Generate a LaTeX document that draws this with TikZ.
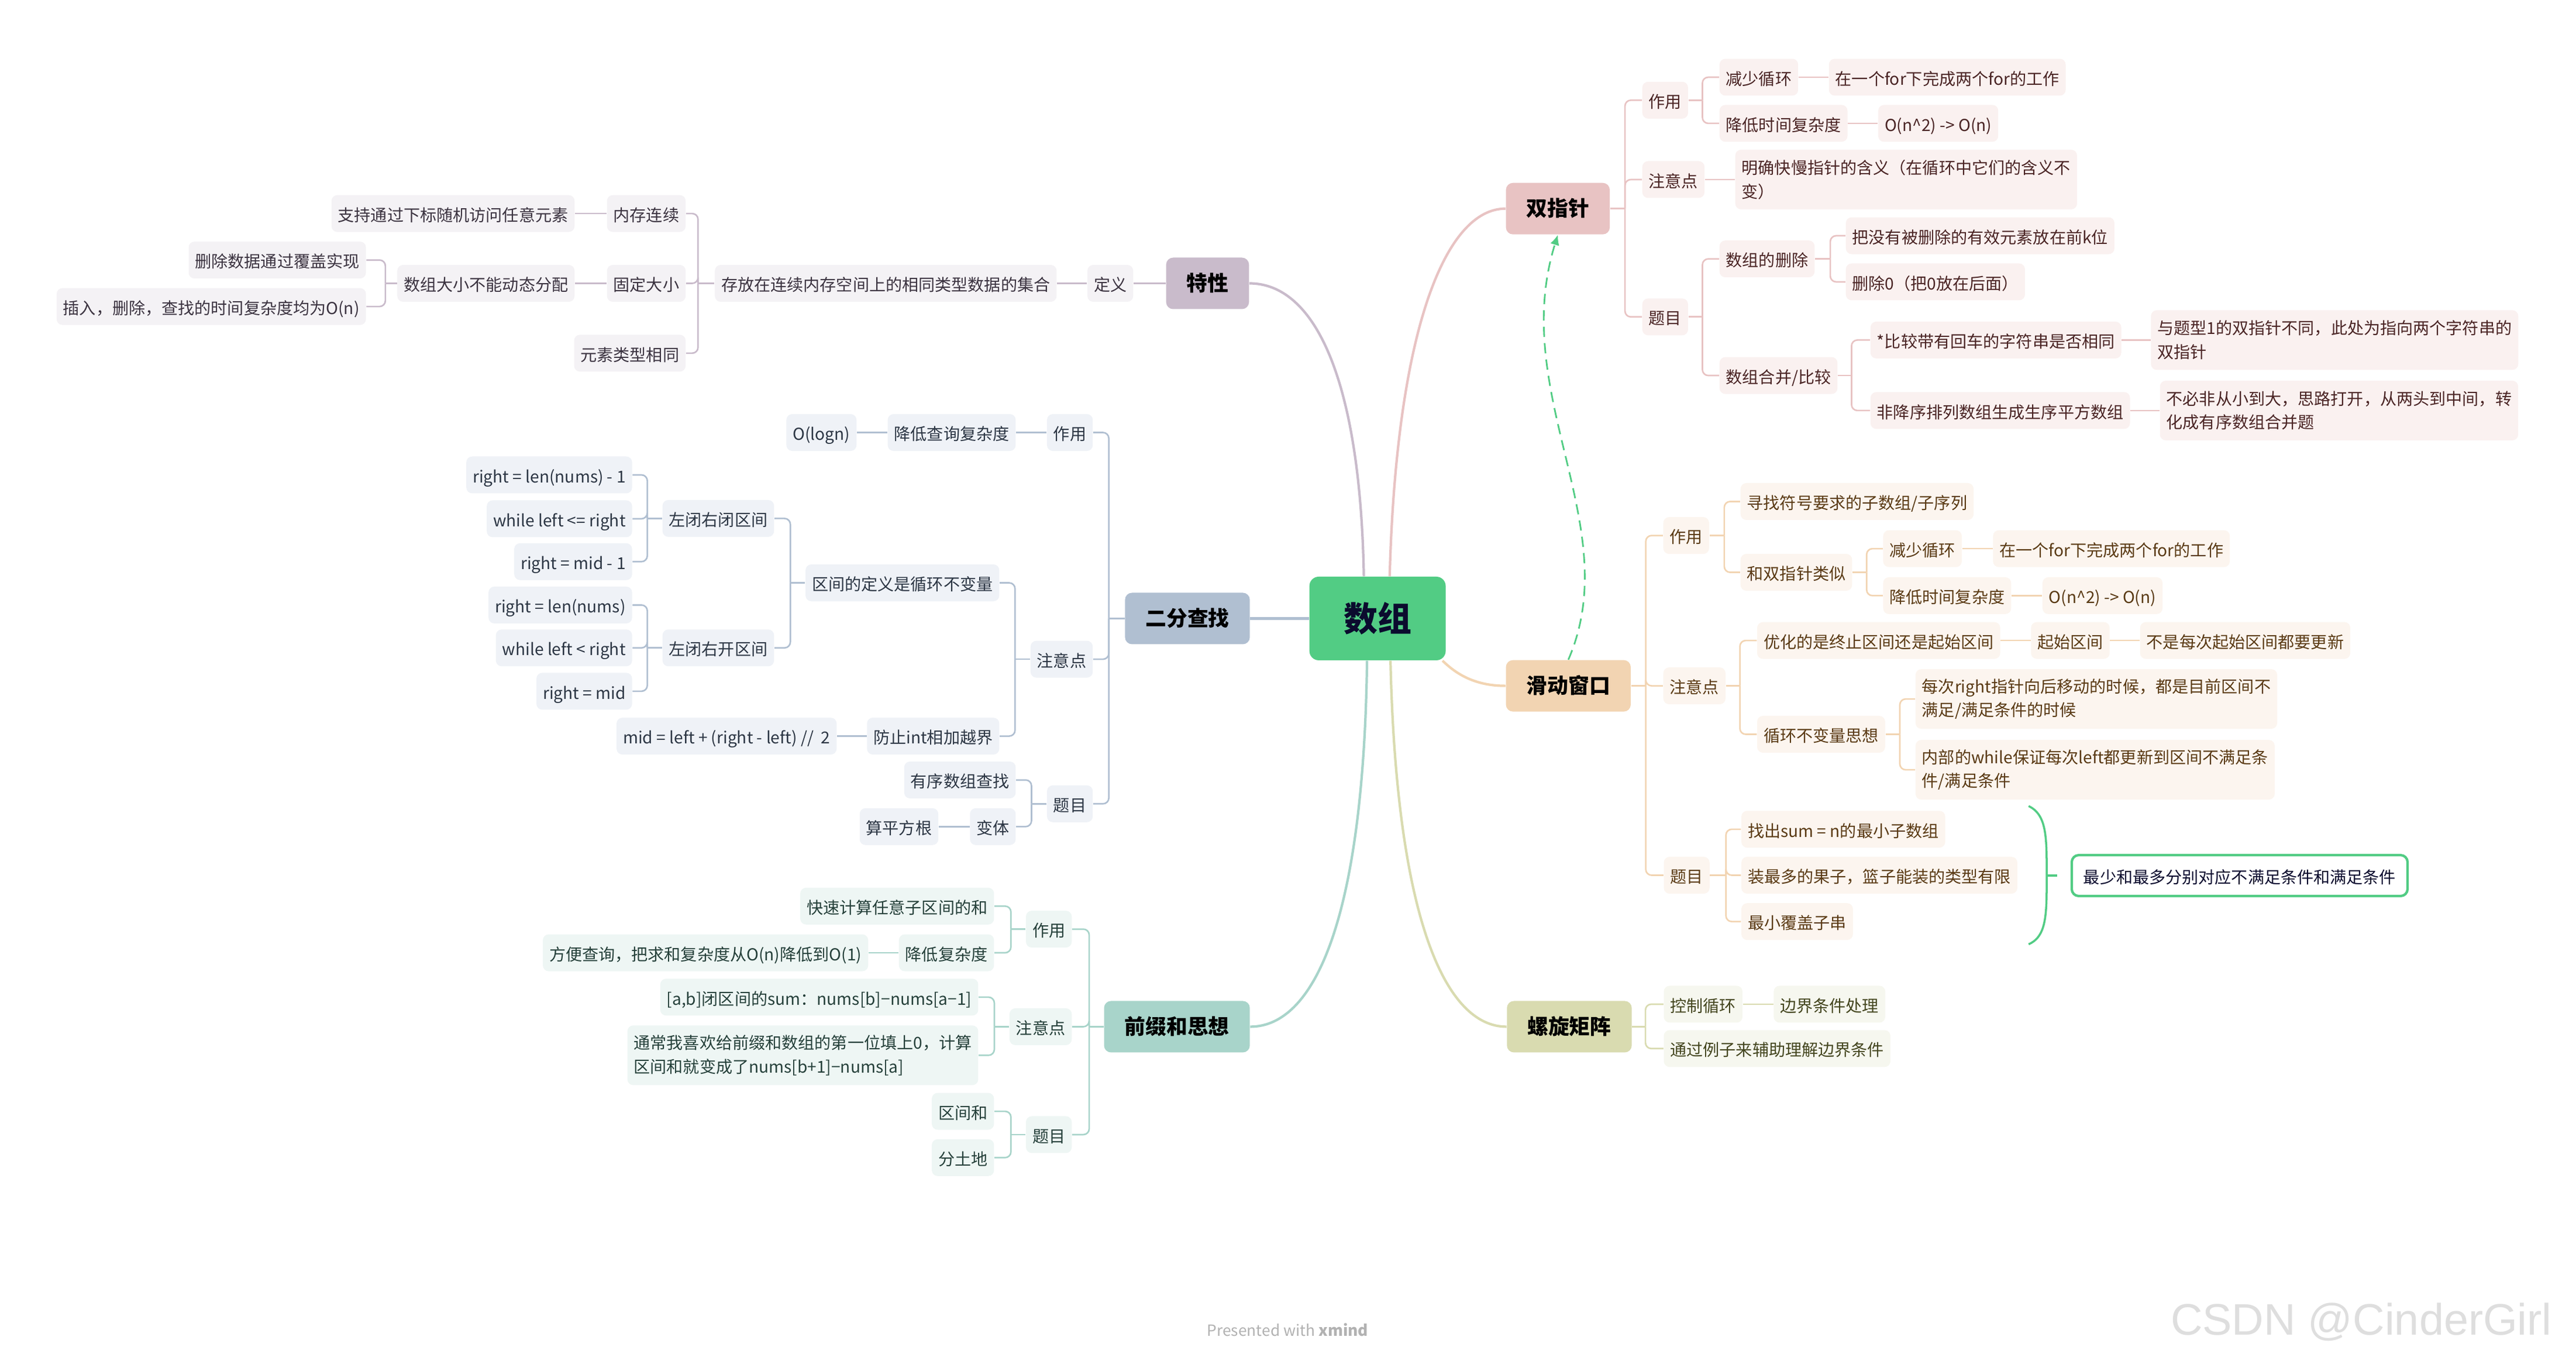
\documentclass[tikz,border=0pt]{standalone}
\usepackage{fontspec}
\setmainfont{Noto Sans CJK SC}
\newfontfamily\wmfont{Liberation Sans}
\usepackage{tikz}
\usetikzlibrary{arrows.meta}

\definecolor{rootgreen}{HTML}{52CC84}
\definecolor{rootink}{HTML}{0B0B2E}
\definecolor{txmain}{HTML}{C9BBCB}
\definecolor{txpale}{HTML}{F4F2F5}
\definecolor{txink}{HTML}{3B3340}
\definecolor{efmain}{HTML}{B0BFD1}
\definecolor{efpale}{HTML}{EFF2F7}
\definecolor{efink}{HTML}{2C3644}
\definecolor{qzmain}{HTML}{A8D4CA}
\definecolor{qzpale}{HTML}{EEF6F4}
\definecolor{qzink}{HTML}{25403A}
\definecolor{szmain}{HTML}{E8C3C3}
\definecolor{szpale}{HTML}{FAF1F0}
\definecolor{szink}{HTML}{4A2424}
\definecolor{hdmain}{HTML}{F2D4B2}
\definecolor{hdpale}{HTML}{FCF5EF}
\definecolor{hdink}{HTML}{5A3A14}
\definecolor{lxmain}{HTML}{D9DBB0}
\definecolor{lxpale}{HTML}{F6F7EF}
\definecolor{lxink}{HTML}{44461F}

\tikzset{
  leafbase/.style={rounded corners=0.1cm, inner xsep=0.11cm, inner ysep=0pt, font=\fontsize{8}{11.6}\selectfont},
  leaf/.style={leafbase, minimum height=0.63cm, text height=0.83em, text depth=0.08em},
  leaftwo/.style={leafbase, minimum height=1.02cm, align=left},
  topic/.style={rounded corners=0.12cm, inner xsep=0.35cm, inner ysep=0pt, minimum height=0.88cm,
    text height=0.83em, text depth=0.08em, font=\fontsize{10.2}{12}\selectfont\bfseries, text=black},
  link/.style={line width=0.75pt, rounded corners=0.1cm},
  trunk/.style={line width=1.2pt},
  % branch styles, left side
  txleaf/.style={leaf, fill=txpale, text=txink, anchor=east},
  txline/.style={link, draw=txmain},
  efleaf/.style={leaf, fill=efpale, text=efink, anchor=east},
  efline/.style={link, draw=efmain},
  qzleaf/.style={leaf, fill=qzpale, text=qzink, anchor=east},
  qztwo/.style={leaftwo, fill=qzpale, text=qzink, anchor=east},
  qzline/.style={link, draw=qzmain},
  % branch styles, right side
  szleaf/.style={leaf, fill=szpale, text=szink, anchor=west},
  sztwo/.style={leaftwo, fill=szpale, text=szink, anchor=west},
  szline/.style={link, draw=szmain},
  hdleaf/.style={leaf, fill=hdpale, text=hdink, anchor=west},
  hdtwo/.style={leaftwo, fill=hdpale, text=hdink, anchor=west},
  hdline/.style={link, draw=hdmain},
  lxleaf/.style={leaf, fill=lxpale, text=lxink, anchor=west},
  lxline/.style={link, draw=lxmain},
}

\begin{document}
\begin{tikzpicture}[x=0.028087cm, y=-0.028087cm]
\useasboundingbox[fill=white] (0,0) rectangle (1568,828.2);
%%% The central topic
\node[rounded corners=0.16cm, fill=rootgreen, text=rootink, minimum width=2.33cm, minimum height=1.43cm,
  font=\fontsize{16.5}{18}\selectfont\bfseries] (shuzu) at (838.5,376.5) {数组};
%%% The six main topics
\node[topic, fill=txmain, anchor=east] (tx) at (760.5,172.5) {特性};
\node[topic, fill=efmain, anchor=east] (ef) at (761,376.5) {二分查找};
\node[topic, fill=qzmain, anchor=east] (qz) at (761,625) {前缀和思想};
\node[topic, fill=szmain, anchor=west] (sz) at (916.4,127) {双指针};
\node[topic, fill=hdmain, anchor=west] (hd) at (916.4,417.5) {滑动窗口};
\node[topic, fill=lxmain, anchor=west] (lx) at (917,625) {螺旋矩阵};
%%% The curved branches out of the centre
\draw[trunk, draw=txmain] (shuzu.108) .. controls (828,230) and (800,172.5) .. (tx.east);
\draw[trunk, draw=szmain] (shuzu.74) .. controls (850,200) and (880,127) .. (sz.west);
\draw[trunk, draw=efmain] (shuzu.west) -- (ef.east);
\draw[trunk, draw=hdmain] (shuzu.-33) .. controls (888,412) and (900,417.5) .. (hd.west);
\draw[trunk, draw=qzmain] (shuzu.256) .. controls (830,560) and (800,625) .. (qz.east);
\draw[trunk, draw=lxmain] (shuzu.287) .. controls (850,560) and (880,625) .. (lx.west);
%%% The dashed relation from 滑动窗口 back to 双指针
\draw[rootgreen, line width=0.8pt, dash pattern=on 5pt off 3pt, -{Latex[length=5pt,width=4.5pt]}]
  (hd.north) .. controls (990,320) and (918,240) .. (sz.south);

%%%%%% Branch 特性
\node[txleaf] (txdy) at (690,172.5) {定义};
\node[txleaf] (txcf) at (643.4,172.5) {存放在连续内存空间上的相同类型数据的集合};
\node[txleaf] (txnc) at (417.6,130) {内存连续};
\node[txleaf] (txgd) at (417.6,172.5) {固定大小};
\node[txleaf] (txys) at (417.6,215) {元素类型相同};
\node[txleaf] (txzc) at (350,130) {支持通过下标随机访问任意元素};
\node[txleaf] (txdx) at (350,172.5) {数组大小不能动态分配};
\node[txleaf] (txsc) at (223,158.3) {删除数据通过覆盖实现};
\node[txleaf] (txcr) at (223,186.6) {插入，删除，查找的时间复杂度均为O(n)};
%
\draw[txline] (tx.west) -- (txdy.east);
\draw[txline] (txdy.west) -- (txcf.east);
\draw[txline] (txcf.west) -- ++(-10,0);
\draw[txline] (txcf.west) ++(-10,0) |- (txnc.east);
\draw[txline] (txcf.west) ++(-10,0) |- (txgd.east);
\draw[txline] (txcf.west) ++(-10,0) |- (txys.east);
\draw[txline] (txnc.west) -- (txzc.east);
\draw[txline] (txgd.west) -- (txdx.east);
\draw[txline] (txdx.west) -- ++(-7,0);
\draw[txline] (txdx.west) ++(-7,0) |- (txsc.east);
\draw[txline] (txdx.west) ++(-7,0) |- (txcr.east);

%%%%%% Branch 二分查找
\node[efleaf] (efzy) at (665.4,263.3) {作用};
\node[efleaf] (efjd) at (618.5,263.3) {降低查询复杂度};
\node[efleaf] (eflog) at (521.6,263.3) {O(logn)};
\node[efleaf] (efzd) at (665.4,401.3) {注意点};
\node[efleaf] (efqj) at (608.5,354.8) {区间的定义是循环不变量};
\node[efleaf] (efbb) at (471.4,315.6) {左闭右闭区间};
\node[efleaf] (efbba) at (385,289.1) {right = len(nums) - 1};
\node[efleaf] (efbbb) at (385,315.8) {while left <= right};
\node[efleaf] (efbbc) at (385,341.9) {right = mid - 1};
\node[efleaf] (efbk) at (471.4,394.4) {左闭右开区间};
\node[efleaf] (efbka) at (385,368.3) {right = len(nums)};
\node[efleaf] (efbkb) at (385,394.4) {while left < right};
\node[efleaf] (efbkc) at (385,420.8) {right = mid};
\node[efleaf] (effz) at (608.5,448.1) {防止int相加越界};
\node[efleaf] (efmid) at (509.5,448.1) {mid = left + (right - left) //\ \ 2};
\node[efleaf] (eftm) at (665.4,489.3) {题目};
\node[efleaf] (efyx) at (618.5,474.8) {有序数组查找};
\node[efleaf] (efbt) at (618.5,503.2) {变体};
\node[efleaf] (efsp) at (571.4,503.2) {算平方根};
%
\draw[efline] (ef.west) -- ++(-9.6,0);
\draw[efline] (ef.west) ++(-9.6,0) |- (efzy.east);
\draw[efline] (ef.west) ++(-9.6,0) |- (efzd.east);
\draw[efline] (ef.west) ++(-9.6,0) |- (eftm.east);
\draw[efline] (efzy.west) -- (efjd.east);
\draw[efline] (efjd.west) -- (eflog.east);
\draw[efline] (efzd.west) -- ++(-9.2,0);
\draw[efline] (efzd.west) ++(-9.2,0) |- (efqj.east);
\draw[efline] (efzd.west) ++(-9.2,0) |- (effz.east);
\draw[efline] (efqj.west) -- ++(-9,0);
\draw[efline] (efqj.west) ++(-9,0) |- (efbb.east);
\draw[efline] (efqj.west) ++(-9,0) |- (efbk.east);
\draw[efline] (efbb.west) -- ++(-9,0);
\draw[efline] (efbb.west) ++(-9,0) |- (efbba.east);
\draw[efline] (efbb.west) ++(-9,0) |- (efbbb.east);
\draw[efline] (efbb.west) ++(-9,0) |- (efbbc.east);
\draw[efline] (efbk.west) -- ++(-9,0);
\draw[efline] (efbk.west) ++(-9,0) |- (efbka.east);
\draw[efline] (efbk.west) ++(-9,0) |- (efbkb.east);
\draw[efline] (efbk.west) ++(-9,0) |- (efbkc.east);
\draw[efline] (effz.west) -- (efmid.east);
\draw[efline] (eftm.west) -- ++(-9.2,0);
\draw[efline] (eftm.west) ++(-9.2,0) |- (efyx.east);
\draw[efline] (eftm.west) ++(-9.2,0) |- (efbt.east);
\draw[efline] (efbt.west) -- (efsp.east);

%%%%%% Branch 前缀和思想
\node[qzleaf] (qzzy) at (652.6,565.6) {作用};
\node[qzleaf] (qzks) at (605.3,551.6) {快速计算任意子区间的和};
\node[qzleaf] (qzjd) at (605.3,580) {降低复杂度};
\node[qzleaf] (qzfb) at (528.7,580) {方便查询，把求和复杂度从O(n)降低到O(1)};
\node[qzleaf] (qzzd) at (652.6,625) {注意点};
\node[qzleaf] (qzab) at (595.7,607) {[a,b]闭区间的sum：nums[b]−nums[a−1]};
\node[qztwo] (qztc) at (595.7,642.4) {通常我喜欢给前缀和数组的第一位填上0，计算\\区间和就变成了nums[b+1]−nums[a]};
\node[qzleaf] (qztm) at (652.6,690.7) {题目};
\node[qzleaf] (qzqh) at (605.3,676.5) {区间和};
\node[qzleaf] (qztd) at (605.3,704.7) {分土地};
%
\draw[qzline] (qz.west) -- ++(-8.8,0);
\draw[qzline] (qz.west) ++(-8.8,0) |- (qzzy.east);
\draw[qzline] (qz.west) ++(-8.8,0) |- (qzzd.east);
\draw[qzline] (qz.west) ++(-8.8,0) |- (qztm.east);
\draw[qzline] (qzzy.west) -- ++(-8.9,0);
\draw[qzline] (qzzy.west) ++(-8.9,0) |- (qzks.east);
\draw[qzline] (qzzy.west) ++(-8.9,0) |- (qzjd.east);
\draw[qzline] (qzjd.west) -- (qzfb.east);
\draw[qzline] (qzzd.west) -- ++(-9,0);
\draw[qzline] (qzzd.west) ++(-9,0) |- (qzab.east);
\draw[qzline] (qzzd.west) ++(-9,0) |- (qztc.east);
\draw[qzline] (qztm.west) -- ++(-8.9,0);
\draw[qzline] (qztm.west) ++(-8.9,0) |- (qzqh.east);
\draw[qzline] (qztm.west) ++(-8.9,0) |- (qztd.east);

%%%%%% Branch 双指针
\node[szleaf] (szzy) at (999.4,61) {作用};
\node[szleaf] (szjx) at (1046.4,47) {减少循环};
\node[szleaf] (szfor) at (1113,47) {在一个for下完成两个for的工作};
\node[szleaf] (szjd) at (1046.4,75.1) {降低时间复杂度};
\node[szleaf] (szon) at (1143,75.1) {O(n\textasciicircum 2) -> O(n)};
\node[szleaf] (szzd) at (999.4,109.3) {注意点};
\node[sztwo] (szmq) at (1056,109.3) {明确快慢指针的含义（在循环中它们的含义不\\变）};
\node[szleaf] (sztm) at (999.4,192.9) {题目};
\node[szleaf] (szsc) at (1046.4,157.6) {数组的删除};
\node[szleaf] (szbm) at (1123.3,143.5) {把没有被删除的有效元素放在前k位};
\node[szleaf] (szsz) at (1123.3,171.6) {删除0（把0放在后面）};
\node[szleaf] (szhb) at (1046.4,228.6) {数组合并/比较};
\node[szleaf] (szbj) at (1138.3,207) {*比较带有回车的字符串是否相同};
\node[sztwo] (szyt) at (1309,207) {与题型1的双指针不同，此处为指向两个字符串的\\双指针};
\node[szleaf] (szfj) at (1138.3,249.9) {非降序排列数组生成生序平方数组};
\node[sztwo] (szbb) at (1314.5,249.9) {不必非从小到大，思路打开，从两头到中间，转\\化成有序数组合并题};
%
\draw[szline] (sz.east) -- ++(9,0);
\draw[szline] (sz.east) ++(9,0) |- (szzy.west);
\draw[szline] (sz.east) ++(9,0) |- (szzd.west);
\draw[szline] (sz.east) ++(9,0) |- (sztm.west);
\draw[szline] (szzy.east) -- ++(8.5,0);
\draw[szline] (szzy.east) ++(8.5,0) |- (szjx.west);
\draw[szline] (szzy.east) ++(8.5,0) |- (szjd.west);
\draw[szline] (szjx.east) -- (szfor.west);
\draw[szline] (szjd.east) -- (szon.west);
\draw[szline] (szzd.east) -- (szmq.west);
\draw[szline] (sztm.east) -- ++(8.5,0);
\draw[szline] (sztm.east) ++(8.5,0) |- (szsc.west);
\draw[szline] (sztm.east) ++(8.5,0) |- (szhb.west);
\draw[szline] (szsc.east) -- ++(9.3,0);
\draw[szline] (szsc.east) ++(9.3,0) |- (szbm.west);
\draw[szline] (szsc.east) ++(9.3,0) |- (szsz.west);
\draw[szline] (szhb.east) -- ++(8.3,0);
\draw[szline] (szhb.east) ++(8.3,0) |- (szbj.west);
\draw[szline] (szhb.east) ++(8.3,0) |- (szfj.west);
\draw[szline] (szbj.east) -- (szyt.west);
\draw[szline] (szfj.east) -- (szbb.west);

%%%%%% Branch 滑动窗口
\node[hdleaf] (hdzy) at (1012.2,326) {作用};
\node[hdleaf] (hdxz) at (1059.2,305.3) {寻找符号要求的子数组/子序列};
\node[hdleaf] (hdhs) at (1059.2,348.4) {和双指针类似};
\node[hdleaf] (hdjx) at (1146,334) {减少循环};
\node[hdleaf] (hdfor) at (1212.9,334) {在一个for下完成两个for的工作};
\node[hdleaf] (hdjd) at (1146,362.6) {降低时间复杂度};
\node[hdleaf] (hdon) at (1243,362.6) {O(n\textasciicircum 2) -> O(n)};
\node[hdleaf] (hdzd) at (1012.2,417.5) {注意点};
\node[hdleaf] (hdyh) at (1069.3,389.9) {优化的是终止区间还是起始区间};
\node[hdleaf] (hdqs) at (1236,389.9) {起始区间};
\node[hdleaf] (hdbs) at (1302.4,389.9) {不是每次起始区间都要更新};
\node[hdleaf] (hdxh) at (1069.3,447) {循环不变量思想};
\node[hdtwo] (hdmc) at (1165.7,425.5) {每次right指针向后移动的时候，都是目前区间不\\满足/满足条件的时候};
\node[hdtwo] (hdnb) at (1165.7,468.6) {内部的while保证每次left都更新到区间不满足条\\件/满足条件};
\node[hdleaf] (hdtm) at (1012.5,532.8) {题目};
\node[hdleaf] (hdsum) at (1059.7,504.8) {找出sum = n的最小子数组};
\node[hdleaf] (hdgz) at (1059.7,532.8) {装最多的果子，篮子能装的类型有限};
\node[hdleaf] (hdfg) at (1059.7,561) {最小覆盖子串};
%
\draw[hdline] (hd.east) -- ++(8.9,0);
\draw[hdline] (hd.east) ++(8.9,0) |- (hdzy.west);
\draw[hdline] (hd.east) ++(8.9,0) |- (hdzd.west);
\draw[hdline] (hd.east) ++(8.9,0) |- (hdtm.west);
\draw[hdline] (hdzy.east) -- ++(9,0);
\draw[hdline] (hdzy.east) ++(9,0) |- (hdxz.west);
\draw[hdline] (hdzy.east) ++(9,0) |- (hdhs.west);
\draw[hdline] (hdhs.east) -- ++(8.6,0);
\draw[hdline] (hdhs.east) ++(8.6,0) |- (hdjx.west);
\draw[hdline] (hdhs.east) ++(8.6,0) |- (hdjd.west);
\draw[hdline] (hdjx.east) -- (hdfor.west);
\draw[hdline] (hdjd.east) -- (hdon.west);
\draw[hdline] (hdzd.east) -- ++(8.5,0);
\draw[hdline] (hdzd.east) ++(8.5,0) |- (hdyh.west);
\draw[hdline] (hdzd.east) ++(8.5,0) |- (hdxh.west);
\draw[hdline] (hdyh.east) -- (hdqs.west);
\draw[hdline] (hdqs.east) -- (hdbs.west);
\draw[hdline] (hdxh.east) -- ++(8.7,0);
\draw[hdline] (hdxh.east) ++(8.7,0) |- (hdmc.west);
\draw[hdline] (hdxh.east) ++(8.7,0) |- (hdnb.west);
\draw[hdline] (hdtm.east) -- ++(9.7,0);
\draw[hdline] (hdtm.east) ++(9.7,0) |- (hdsum.west);
\draw[hdline] (hdtm.east) ++(9.7,0) |- (hdgz.west);
\draw[hdline] (hdtm.east) ++(9.7,0) |- (hdfg.west);
%%%% The summary of the three problems
\node[rounded corners=0.12cm, draw=rootgreen, line width=1.2pt, fill=white, text=rootink, anchor=west,
  inner xsep=0.2cm, inner ysep=0pt, minimum height=0.7cm, text height=0.83em, text depth=0.08em,
  font=\fontsize{8}{11.6}\selectfont] (hdzj) at (1260.3,533) {最少和最多分别对应不满足条件和满足条件};
\coordinate (brtop) at (1234.8,490.7);
\coordinate (brmid) at (1245.8,533);
\coordinate (brbot) at (1234.8,574.8);
\draw[rootgreen, line width=1pt] (brtop) .. controls (1246,496) and (1245.8,510) .. (brmid)
  .. controls (1245.8,556) and (1246,570) .. (brbot);
\draw[rootgreen, line width=1.2pt] (brmid) -- ++(6.4,0);

%%%%%% Branch 螺旋矩阵
\node[lxleaf] (lxkz) at (1012.5,611.3) {控制循环};
\node[lxleaf] (lxbj) at (1079.4,611.3) {边界条件处理};
\node[lxleaf] (lxtg) at (1012.5,638.3) {通过例子来辅助理解边界条件};
%
\draw[lxline] (lx.east) -- ++(8.1,0);
\draw[lxline] (lx.east) ++(8.1,0) |- (lxkz.west);
\draw[lxline] (lx.east) ++(8.1,0) |- (lxtg.west);
\draw[lxline] (lxkz.east) -- (lxbj.west);

%%% The two marks at the bottom
\node[font=\fontsize{7.5}{9}\selectfont, text=black!30, anchor=base] (xmark) at (783.8,813.5) {Presented with \textbf{xmind}};
\node[font=\wmfont\fontsize{21.5}{26}\selectfont, text=black!13, anchor=base west, inner sep=0pt] (csdn) at (1321,812.7) {CSDN @CinderGirl};
\end{tikzpicture}
\end{document}
